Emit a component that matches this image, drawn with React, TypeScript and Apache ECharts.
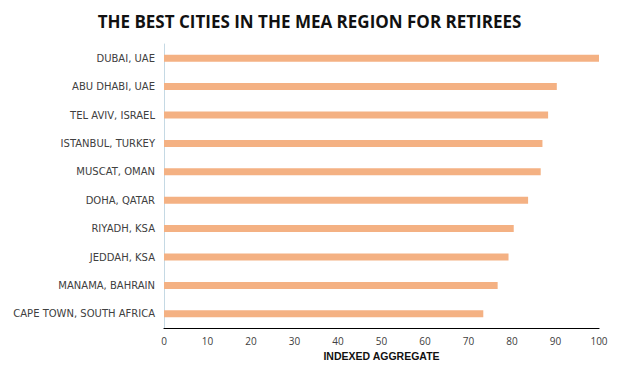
import React, { useEffect, useRef } from "react";
import * as echarts from "echarts";

const cities = [
  "DUBAI, UAE",
  "ABU DHABI, UAE",
  "TEL AVIV, ISRAEL",
  "ISTANBUL, TURKEY",
  "MUSCAT, OMAN",
  "DOHA, QATAR",
  "RIYADH, KSA",
  "JEDDAH, KSA",
  "MANAMA, BAHRAIN",
  "CAPE TOWN, SOUTH AFRICA",
];
const scores = [100, 90.3, 88.3, 87.0, 86.6, 83.7, 80.4, 79.2, 76.7, 73.4];
const titleText = "THE BEST CITIES IN THE MEA REGION FOR RETIREES";
const xAxisName = "INDEXED AGGREGATE";

export default function App() {
  const ref = useRef<HTMLDivElement>(null);
  useEffect(() => {
    if (!ref.current) return;
    const chart = echarts.init(ref.current, null, { renderer: "svg" });
    chart.setOption({
      animation: false,
      backgroundColor: "#ffffff",
      title: {
        text: titleText,
        left: "center",
        top: 8,
        textStyle: {
          fontFamily: "Open Sans",
          fontWeight: "bold",
          fontSize: 17,
          color: "#111111",
        },
      },
      grid: { left: 164, right: 20, top: 44, bottom: 44, containLabel: false },
      xAxis: {
        type: "value",
        min: 0,
        max: 100,
        interval: 10,
        name: xAxisName,
        nameLocation: "middle",
        nameGap: 22,
        nameTextStyle: {
          fontFamily: "Liberation Sans",
          fontWeight: "bold",
          fontSize: 10.5,
          color: "#111111",
        },
        axisLine: { show: true, lineStyle: { color: "#000000", width: 1.2 } },
        axisTick: { show: false },
        splitLine: { show: false },
        axisLabel: {
          fontFamily: "Open Sans",
          fontSize: 10,
          color: "#404040",
          margin: 8,
        },
      },
      yAxis: {
        type: "category",
        data: cities,
        inverse: true,
        axisLine: { show: true, lineStyle: { color: "#c5d9e4", width: 1 } },
        axisTick: { show: false },
        axisLabel: {
          fontFamily: "DejaVu Sans",
          fontSize: 10,
          color: "#404040",
          margin: 9,
        },
      },
      series: [
        {
          type: "bar",
          data: scores,
          barWidth: 7,
          itemStyle: { color: "#f4b183" },
        },
      ],
    });
    return () => chart.dispose();
  }, []);
  return (
    <div
      ref={ref}
      style={{ position: "fixed", left: 0, top: 0, width: 619, height: 372 }}
    />
  );
}
